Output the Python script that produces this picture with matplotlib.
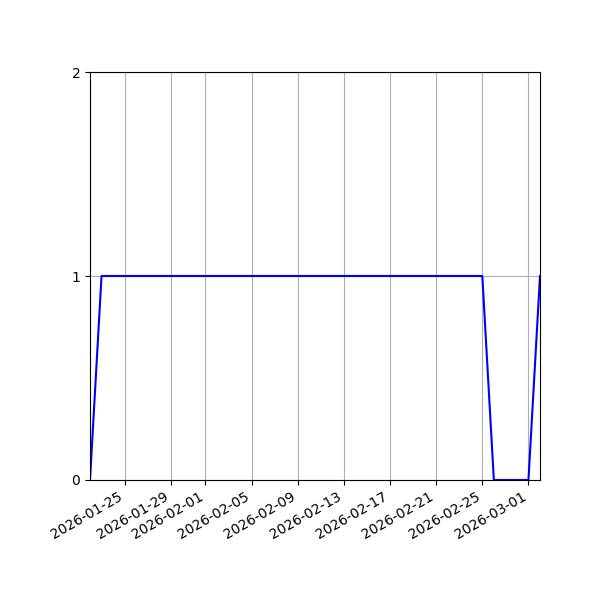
import datetime as dt
import matplotlib
matplotlib.use("Agg")
import matplotlib.pyplot as plt
import matplotlib.dates as mdates

# daily on/off status
start = dt.date(2026, 1, 22)
status = [0] + [1] * 34 + [0] * 4 + [1]
days = [start + dt.timedelta(days=i) for i in range(len(status))]

fig, ax = plt.subplots(figsize=(6, 6), dpi=100)
ax.plot(days, status, color="blue")
ax.set_xlim(days[0], days[-1])
ax.set_ylim(0, 2)
ax.set_yticks([0, 1, 2])
ax.xaxis.set_major_locator(mdates.DayLocator(bymonthday=range(1, 32, 4)))
ax.xaxis.set_major_formatter(mdates.DateFormatter("%Y-%m-%d"))
ax.grid(True)
fig.autofmt_xdate()
fig.subplots_adjust(left=0.15, right=0.9, top=0.88, bottom=0.2)
fig.savefig("out.png")
